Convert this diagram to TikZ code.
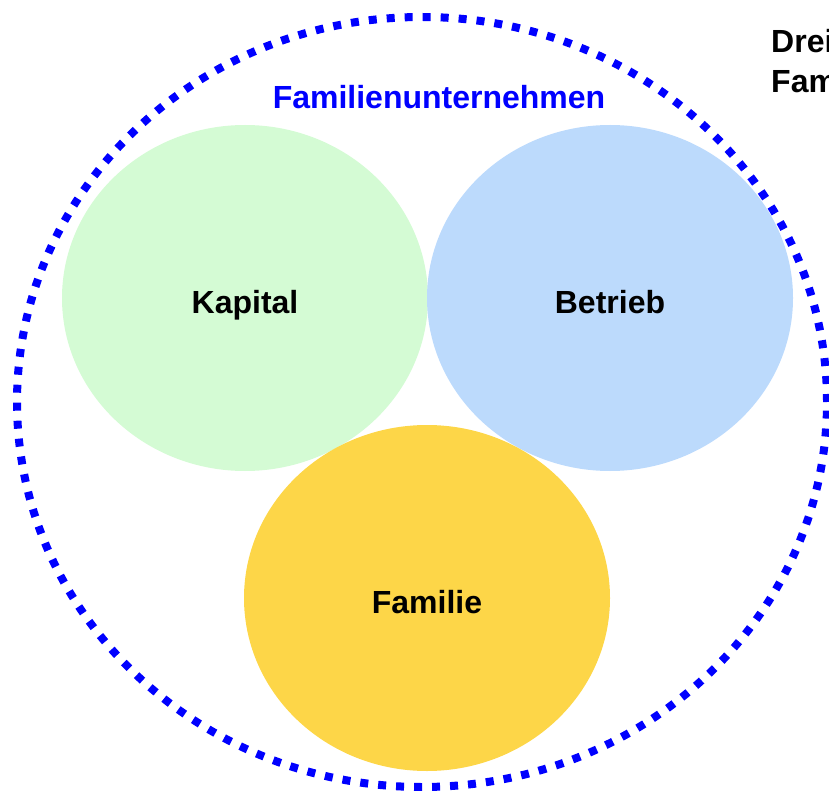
\documentclass[tikz,border=0pt]{standalone}
\usepackage{fontspec}
\setmainfont{Liberation Sans}
\usetikzlibrary{shapes.geometric, positioning}
\definecolor{kapitalgruen}{RGB}{212,251,212}
\definecolor{betriebblau}{RGB}{188,218,252}
\definecolor{familiegelb}{RGB}{253,214,72}
\definecolor{rahmenblau}{RGB}{0,0,255}
\tikzset{kreis/.style = {
  % Ellipse:
  ellipse,
  draw=none,
  inner sep=0pt,
  minimum width=366pt,
  minimum height=346pt,
  % Text
  font=\fontsize{32}{38}\selectfont\bfseries,
  text height=30pt, text depth=0pt,
  text=black
  }}
\tikzset{rahmen/.style = {
  % Ellipse:
  ellipse,
  draw=rahmenblau,
  line width=8pt,
  dash pattern=on 8pt off 10pt,
  minimum width=810pt,
  minimum height=770pt
  }}
\tikzset{titel/.style = {
  font=\fontsize{32}{38}\selectfont\bfseries,
  text=rahmenblau,
  inner sep=0pt
  }}

\begin{document}
\begin{tikzpicture}[x=1pt, y=-1pt]
\useasboundingbox (0,0) rectangle (829,791);

% NODES
\node (unternehmen) [rahmen] at (422,402) {};
\node (titel) [titel] at (439,97) {Familienunternehmen};

\node (kapital) [kreis, fill=kapitalgruen] at (245,298) {Kapital};
\node (betrieb) [kreis, fill=betriebblau] at (610,298) {Betrieb};
\node (familie) [kreis, fill=familiegelb] at (427,598) {Familie};

\node (modell) [font=\fontsize{32}{40}\selectfont\bfseries, align=left,
  anchor=north west, inner sep=0pt] at (771,29) {Drei\\Fam};
\end{tikzpicture}
\end{document}
